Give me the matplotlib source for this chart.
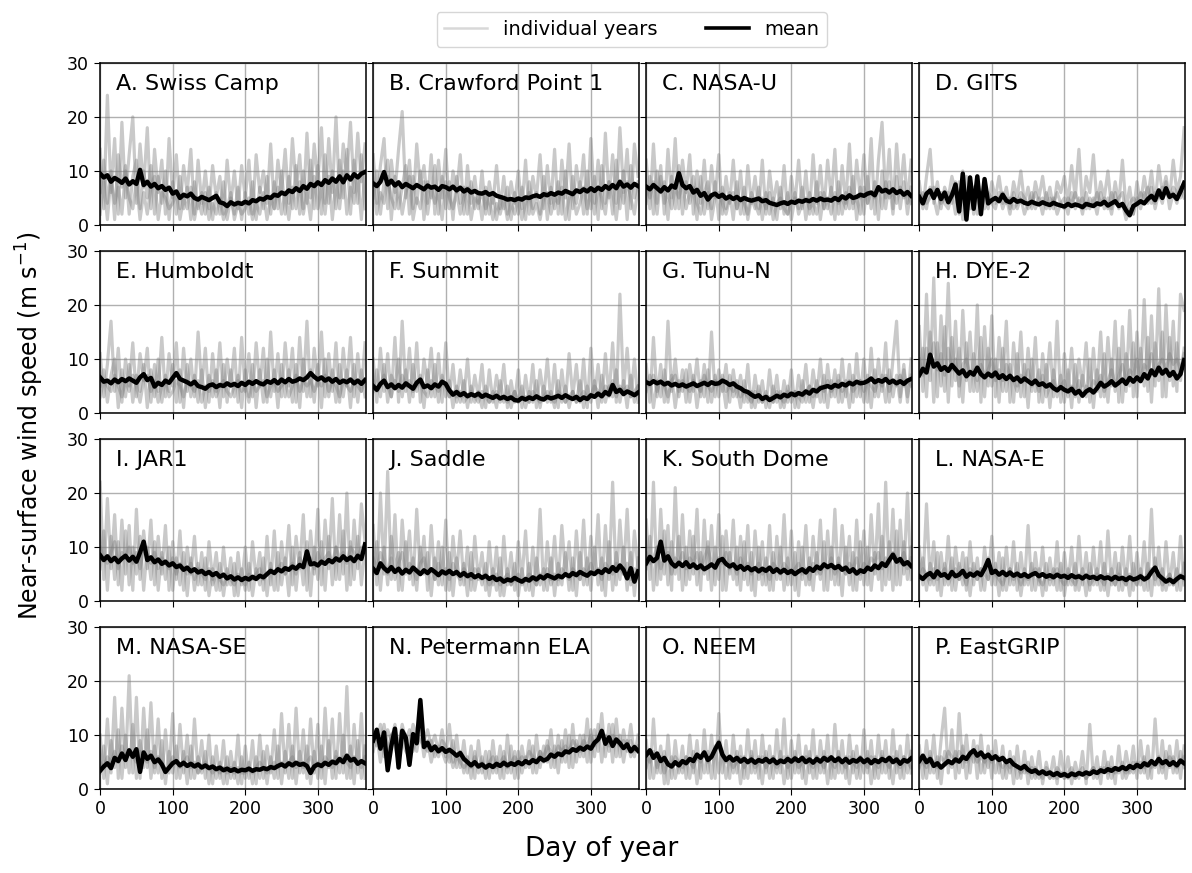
import numpy as np
import matplotlib.pyplot as plt
from matplotlib.lines import Line2D

# station panels, in reading order
labels = ["A. Swiss Camp", "B. Crawford Point 1", "C. NASA-U", "D. GITS",
          "E. Humboldt", "F. Summit", "G. Tunu-N", "H. DYE-2",
          "I. JAR1", "J. Saddle", "K. South Dome", "L. NASA-E",
          "M. NASA-SE", "N. Petermann ELA", "O. NEEM", "P. EastGRIP"]

# sampled every 5 days, day 0 ... 365
days = list(range(0, 366, 5))

# multi-year mean wind speed (m/s)
mean_A = [9.5, 8.8, 9.2, 8.0, 8.7, 8.3, 7.8, 8.6, 7.5, 8.1,
          7.6, 10.2, 7.4, 8.0, 7.1, 7.6, 6.8, 7.2, 6.5, 6.9,
          5.8, 6.2, 5.0, 5.6, 5.3, 5.8, 5.0, 4.7, 5.2, 4.9,
          4.6, 5.0, 5.4, 4.2, 4.0, 3.5, 4.2, 3.8, 4.1, 3.9,
          4.3, 4.0, 4.6, 4.4, 4.9, 4.7, 5.2, 5.0, 5.6, 5.4,
          6.0, 5.7, 6.4, 6.1, 6.8, 6.3, 7.2, 6.7, 7.6, 7.2,
          7.9, 7.4, 8.3, 7.8, 8.6, 8.0, 9.0, 7.9, 9.2, 8.4,
          9.4, 8.8, 9.5, 9.8]
mean_B = [7.7, 7.2, 8.0, 9.8, 7.5, 8.2, 7.3, 7.9, 7.0, 7.6,
          7.2, 6.8, 7.4, 7.0, 6.6, 7.3, 6.9, 7.1, 6.5, 7.2,
          7.0, 6.6, 7.1, 6.4, 6.9, 6.2, 6.6, 6.0, 6.3, 5.9,
          5.8, 6.1, 5.6, 5.9, 5.4, 5.2, 5.0, 4.7, 4.8, 4.6,
          4.9, 4.7, 5.1, 5.0, 5.3, 5.5, 5.2, 5.7, 5.5, 5.9,
          5.6, 6.0, 5.8, 6.3, 6.0, 5.7, 6.4, 6.1, 6.6, 6.2,
          6.8, 6.3, 6.9, 6.5, 7.2, 6.7, 7.4, 6.8, 8.0, 7.1,
          7.5, 6.9, 7.6, 7.2]
mean_C = [7.1, 6.6, 7.4, 6.8, 6.2, 7.0, 6.4, 7.3, 6.9, 9.6,
          7.4, 6.8, 7.2, 6.0, 6.5, 5.4, 5.9, 4.7, 5.5, 5.8,
          5.2, 5.6, 4.9, 5.3, 4.8, 5.2, 4.6, 5.0, 4.7, 4.5,
          4.7, 4.9, 4.4, 4.6, 4.1, 3.9, 3.7, 4.0, 4.2, 3.9,
          4.3, 4.1, 4.5, 4.3, 4.6, 4.4, 4.8, 4.5, 4.9, 4.6,
          4.7, 4.5, 5.0, 4.6, 5.3, 4.9, 5.5, 5.0, 5.2, 5.6,
          5.4, 5.8, 6.0, 5.5, 7.0, 6.2, 6.5, 6.0, 6.6, 5.9,
          6.3, 5.6, 6.1, 5.4]
mean_D = [5.2, 4.0, 5.8, 6.4, 5.0, 6.5, 4.8, 6.0, 4.2, 5.5,
          7.5, 2.5, 9.5, 1.0, 8.8, 3.0, 9.0, 2.0, 8.5, 4.0,
          4.6, 5.0, 4.4, 5.6, 4.5, 4.2, 4.8, 4.3, 4.5, 4.1,
          3.9, 4.3, 4.0, 3.8, 4.2, 3.9, 3.7, 4.1, 3.8, 3.6,
          3.4, 3.9, 3.5, 3.8, 3.6, 3.3, 3.9, 3.7, 3.5, 4.0,
          3.8, 4.3, 3.6, 4.0, 4.4, 3.5, 3.9, 2.7, 1.8, 3.5,
          3.9, 4.4, 4.0, 4.8, 5.4, 4.6, 6.4, 5.0, 6.8, 5.2,
          5.6, 4.8, 6.2, 7.8]
mean_E = [6.6, 5.8, 6.0, 5.5, 6.2, 5.7, 6.3, 5.9, 6.4, 6.0,
          5.6, 6.6, 7.2, 6.1, 6.5, 4.9, 5.6, 5.2, 6.0, 5.6,
          6.5, 7.4, 6.3, 6.0, 5.7, 5.3, 5.8, 5.0, 4.8, 4.5,
          5.1, 5.3, 4.8, 5.2, 5.0, 5.5, 5.1, 5.4, 5.0, 5.6,
          5.2, 5.8, 5.4, 5.9, 5.5, 5.3, 5.9, 5.6, 6.1, 5.5,
          6.2, 5.7, 6.3, 5.8, 6.0, 6.4, 6.1, 6.6, 7.4, 6.7,
          6.2, 6.6, 6.0, 6.4, 5.8, 6.3, 5.6, 6.0, 5.7, 6.2,
          5.5, 6.0, 5.4, 6.1]
mean_F = [5.0, 4.3, 5.4, 6.0, 4.8, 5.3, 4.6, 5.2, 4.7, 5.5,
          5.0, 4.5, 5.6, 6.2, 4.8, 5.1, 4.6, 5.3, 4.9, 5.8,
          5.4, 4.2, 3.4, 3.9, 3.3, 3.7, 3.1, 3.5, 3.2, 3.6,
          3.0, 3.4, 3.1, 2.8, 3.2, 2.7, 3.0, 2.6, 2.9, 2.4,
          2.3, 2.8, 2.5, 2.9, 2.6, 3.1, 2.7, 2.5, 3.0, 2.7,
          2.9, 3.2, 2.8, 3.3, 2.9, 2.6, 3.0, 2.4, 2.9, 2.6,
          3.3, 3.0, 3.6, 3.1, 3.9, 3.4, 5.2, 3.9, 4.3, 3.5,
          4.0, 3.7, 3.3, 3.8]
mean_G = [5.7, 5.4, 5.9, 5.5, 5.8, 5.3, 5.6, 5.1, 5.4, 5.0,
          5.3, 4.9, 5.2, 5.5, 5.0, 5.3, 5.6, 5.2, 5.7, 5.4,
          5.5, 6.0, 5.7, 5.2, 5.5, 4.9, 4.6, 4.1, 3.9, 3.4,
          3.0, 3.3, 2.6, 3.0, 2.4, 2.8, 3.2, 2.9, 3.4, 3.1,
          3.6, 3.3, 3.7, 3.4, 4.0, 3.6, 4.3, 4.0, 4.6, 4.8,
          5.0, 4.7, 5.2, 4.9, 5.4, 5.1, 5.6, 5.3, 5.8, 5.5,
          5.6, 5.9, 6.4, 5.7, 6.1, 5.8, 6.3, 5.6, 6.0, 5.5,
          5.9, 5.4, 6.0, 6.3]
mean_H = [7.0, 8.2, 7.5, 10.8, 8.6, 9.2, 8.0, 8.5, 7.8, 8.9,
          8.1, 7.3, 7.9, 6.8, 7.6, 7.1, 8.4, 7.2, 6.6, 7.3,
          6.8, 7.5, 6.5, 7.0, 6.3, 6.9, 6.1, 6.6, 5.8, 6.4,
          5.9, 5.4, 6.0, 5.2, 5.5, 4.9, 5.3, 4.6, 4.2, 4.8,
          4.3, 4.0, 4.5, 3.6, 4.1, 3.2, 4.0, 4.4, 3.8, 4.6,
          5.6, 4.9, 5.3, 5.9, 5.1, 5.6, 6.2, 5.4, 6.5, 5.8,
          6.6, 5.9, 7.2, 6.4, 7.9, 7.0, 8.4, 7.3, 8.0, 6.9,
          7.6, 6.4, 7.2, 9.8]
mean_I = [8.5, 7.6, 8.3, 7.4, 8.0, 7.2, 7.9, 8.4, 7.5, 8.2,
          7.3, 9.0, 11.0, 7.6, 8.1, 7.2, 7.7, 6.9, 7.3, 6.6,
          7.0, 6.3, 6.6, 5.8, 6.2, 5.5, 5.9, 5.3, 5.6, 5.0,
          5.4, 4.8, 5.2, 4.5, 4.9, 4.2, 4.6, 4.0, 4.4, 3.9,
          4.3, 4.0, 4.5, 4.1, 4.7, 4.4, 5.0, 5.6, 5.2, 5.9,
          5.5, 6.1, 5.8, 6.4, 6.0, 6.7, 6.3, 9.2, 6.8, 7.0,
          6.6, 7.3, 6.9, 7.6, 7.2, 7.9, 7.5, 8.3, 7.6, 8.1,
          7.4, 8.4, 7.8, 10.5]
mean_J = [6.0, 5.2, 7.0, 6.1, 5.5, 6.3, 5.4, 6.0, 5.1, 5.8,
          5.3, 6.2, 5.6, 5.0, 5.7, 5.2, 5.9, 5.4, 4.8, 5.5,
          5.1, 5.6, 5.0, 5.4, 4.7, 5.2, 4.6, 5.0, 4.4, 4.8,
          4.3, 4.7, 4.1, 4.5, 3.9, 4.2, 3.6, 4.0, 3.8, 4.3,
          3.9, 3.6, 4.1, 3.8, 4.4, 4.0, 4.6, 4.2, 4.8, 4.5,
          4.2, 4.7, 4.4, 5.0, 4.6, 5.2, 4.8, 5.4, 5.0, 4.7,
          5.3, 5.0, 5.6, 5.2, 5.9, 5.4, 6.3, 5.6, 6.6, 5.8,
          4.2, 6.1, 3.6, 5.5]
mean_K = [7.0, 8.2, 7.4, 8.0, 11.0, 7.5, 8.3, 7.0, 6.4, 7.1,
          6.5, 7.2, 6.3, 6.8, 6.1, 6.6, 5.9, 6.3, 6.8, 6.2,
          7.5, 7.8, 6.9, 6.4, 6.8, 6.0, 6.5, 5.8, 6.3, 5.7,
          6.1, 5.5, 6.0, 5.6, 6.2, 5.4, 5.9, 5.3, 5.8, 5.2,
          5.6, 5.0, 5.5, 5.9, 5.3, 6.1, 5.6, 6.4, 6.0, 6.8,
          6.3, 6.7, 6.1, 6.5, 5.8, 6.2, 5.4, 5.9, 5.1, 5.7,
          5.4, 6.2, 5.8, 6.6, 6.1, 7.0, 6.5, 7.6, 8.6, 7.3,
          7.8, 6.8, 7.2, 6.5]
mean_L = [4.6, 4.1, 4.8, 5.2, 4.4, 5.5, 4.7, 5.0, 4.3, 5.4,
          4.6, 4.9, 5.6, 4.5, 5.1, 4.7, 5.3, 4.8, 6.0, 7.6,
          5.2, 5.6, 4.9, 5.4, 4.8, 5.3, 4.7, 5.1, 4.6, 5.0,
          4.5, 4.9, 5.2, 4.6, 5.0, 4.5, 4.8, 4.4, 4.9, 4.5,
          4.7, 4.3, 4.8, 4.4, 4.6, 4.2, 4.7, 4.3, 4.5, 4.1,
          4.6, 4.2, 4.4, 4.0, 4.5, 4.1, 4.3, 3.9, 4.4, 4.0,
          4.2, 4.6, 4.0, 4.4, 5.4, 6.2, 4.8, 4.2, 3.6, 4.0,
          3.5, 4.1, 4.6, 4.3]
mean_M = [3.4, 4.2, 4.8, 3.9, 5.8, 5.2, 6.6, 5.4, 7.2, 6.0,
          7.4, 3.2, 6.8, 5.6, 6.2, 5.0, 5.5, 4.6, 3.2, 4.0,
          4.8, 5.2, 4.4, 4.9, 4.3, 4.7, 4.2, 4.6, 4.0, 4.4,
          3.9, 4.2, 3.7, 4.0, 3.5, 3.8, 3.4, 3.7, 3.3, 3.6,
          3.5, 3.8, 3.4, 3.7, 3.6, 3.9, 3.7, 4.1, 3.9, 4.3,
          4.6, 4.2, 4.8, 4.4, 4.9, 4.5, 4.7, 4.3, 3.0, 4.2,
          4.6, 4.3, 4.9, 4.5, 5.1, 4.8, 5.6, 5.0, 6.2, 5.3,
          5.6, 4.7, 5.2, 4.8]
mean_N = [9.0, 11.0, 7.5, 10.5, 3.5, 8.0, 11.2, 4.0, 10.8, 9.5,
          4.5, 10.2, 8.5, 16.5, 7.8, 8.6, 7.2, 7.9, 7.0, 7.6,
          6.9, 7.3, 6.8, 6.2, 6.7, 5.6, 5.0, 4.4, 5.0, 4.2,
          4.6, 4.0, 4.5, 4.1, 4.7, 4.3, 4.9, 4.4, 4.8, 4.5,
          5.0, 4.6, 5.2, 4.8, 5.4, 5.0, 5.8, 5.3, 5.6, 6.4,
          6.0, 6.6, 6.3, 7.0, 6.8, 7.4, 7.1, 7.7, 7.3, 7.9,
          7.5, 8.6, 9.2, 10.8, 8.4, 9.6, 8.0, 9.2, 8.5, 7.6,
          8.3, 7.0, 7.8, 7.1]
mean_O = [6.3, 7.2, 5.8, 6.6, 5.2, 5.8, 4.6, 4.2, 5.0, 4.4,
          5.2, 4.8, 5.6, 5.2, 6.4, 5.8, 6.8, 5.4, 6.0, 7.4,
          8.6, 6.4, 5.4, 6.0, 5.3, 5.8, 5.1, 5.6, 5.0, 5.5,
          4.9, 5.4, 5.1, 5.6, 5.0, 5.5, 4.8, 5.3, 5.0, 5.6,
          5.1, 5.7, 5.2, 5.8, 5.0, 5.5, 4.9, 5.6, 5.1, 5.8,
          5.3, 5.9, 5.2, 5.7, 5.0, 5.6, 4.9, 5.4, 5.1, 5.7,
          5.0, 5.5, 4.8, 5.4, 5.0, 5.6, 5.2, 5.8, 5.0, 5.5,
          4.7, 5.4, 5.1, 5.7]
mean_P = [5.2, 6.2, 5.0, 5.6, 4.3, 4.8, 4.0, 4.6, 5.2, 4.8,
          5.5, 5.1, 6.0, 5.6, 6.6, 7.2, 6.2, 6.8, 5.9, 6.4,
          5.6, 6.1, 5.4, 5.8, 5.0, 5.4, 4.6, 4.2, 3.8, 4.3,
          3.6, 3.2, 3.5, 2.9, 3.3, 2.8, 3.1, 2.6, 3.0, 2.5,
          2.8, 2.4, 2.9, 2.6, 3.0, 2.7, 3.1, 2.8, 3.3, 3.0,
          3.5, 3.2, 3.7, 3.4, 3.9, 3.6, 4.1, 3.7, 4.3, 3.9,
          4.5, 4.1, 4.8, 4.4, 5.2, 4.6, 5.6, 4.8, 5.2, 4.5,
          5.0, 4.4, 5.3, 4.8]

# a few individual years per station (m/s)
years_A = [
    [14, 3, 24, 6, 16, 2, 19, 5, 13, 20, 4, 15, 7, 18, 3, 14, 6, 12, 2, 16,
     5, 13, 3, 11, 6, 14, 2, 12, 4, 10, 3, 11, 5, 9, 2, 12, 4, 10, 3, 11,
     5, 12, 2, 13, 6, 10, 4, 15, 3, 12, 6, 14, 4, 16, 7, 13, 3, 17, 5, 15,
     8, 18, 4, 16, 6, 20, 5, 15, 9, 19, 6, 17, 8, 15],
    [6, 12, 4, 10, 1, 13, 7, 11, 2, 9, 12, 3, 10, 5, 11, 2, 9, 4, 10, 1,
     8, 2, 9, 3, 7, 1, 8, 3, 6, 2, 7, 1, 6, 2, 8, 1, 5, 2, 7, 1,
     6, 2, 8, 1, 7, 3, 9, 2, 8, 3, 10, 2, 9, 3, 11, 2, 10, 4, 12, 3,
     11, 2, 13, 4, 10, 3, 12, 5, 14, 2, 12, 4, 13, 3],
    [2, 8, 1, 9, 4, 7, 2, 10, 5, 3, 8, 1, 6, 2, 7, 9, 1, 6, 5, 3,
     4, 6, 1, 5, 3, 7, 1, 5, 2, 6, 1, 4, 2, 5, 1, 3, 6, 1, 4, 2,
     3, 5, 1, 4, 2, 6, 1, 5, 3, 7, 2, 6, 1, 7, 3, 8, 2, 6, 1, 9,
     3, 7, 2, 9, 1, 8, 3, 10, 2, 7, 4, 9, 1, 10]]
years_B = [
    [13, 4, 11, 16, 3, 12, 6, 14, 21, 5, 12, 3, 15, 7, 11, 4, 13, 2, 12, 5,
     14, 3, 10, 6, 13, 2, 11, 4, 9, 3, 10, 2, 8, 4, 11, 3, 9, 2, 8, 4,
     10, 3, 12, 2, 9, 5, 13, 3, 11, 4, 14, 2, 12, 5, 15, 3, 11, 6, 13, 2,
     16, 4, 12, 3, 17, 5, 13, 4, 18, 6, 14, 3, 15, 9],
    [5, 10, 2, 8, 12, 1, 9, 3, 7, 11, 2, 9, 4, 10, 1, 8, 5, 11, 2, 9,
     3, 8, 1, 9, 4, 7, 2, 8, 3, 6, 1, 7, 2, 6, 1, 5, 3, 7, 1, 6,
     2, 7, 1, 8, 3, 6, 2, 9, 1, 7, 3, 8, 2, 10, 1, 9, 4, 8, 2, 10,
     3, 9, 1, 11, 4, 8, 2, 12, 3, 10, 1, 11, 5, 8],
    [8, 2, 6, 4, 9, 5, 3, 7, 2, 6, 9, 1, 5, 3, 8, 2, 7, 4, 6, 1,
     8, 5, 3, 6, 2, 5, 7, 1, 5, 4, 6, 3, 5, 1, 4, 2, 5, 1, 4, 2,
     5, 1, 4, 6, 2, 4, 1, 5, 6, 2, 5, 4, 7, 1, 5, 6, 2, 4, 7, 3,
     6, 2, 7, 5, 2, 8, 6, 1, 7, 4, 8, 5, 2, 7]]
years_C = [
    [12, 3, 15, 4, 11, 2, 14, 5, 16, 3, 12, 6, 13, 2, 10, 4, 12, 3, 11, 5,
     13, 2, 9, 4, 12, 3, 10, 2, 11, 4, 9, 3, 12, 2, 10, 4, 8, 3, 11, 2,
     9, 4, 12, 3, 10, 2, 13, 4, 11, 3, 12, 5, 14, 2, 11, 4, 15, 3, 12, 5,
     13, 4, 16, 2, 12, 19, 5, 14, 3, 15, 6, 13, 4, 12],
    [4, 9, 2, 10, 6, 8, 1, 9, 3, 11, 2, 8, 4, 7, 1, 9, 2, 6, 3, 8,
     1, 7, 3, 6, 1, 8, 2, 7, 1, 5, 3, 7, 1, 6, 2, 5, 1, 7, 2, 6,
     1, 5, 3, 7, 1, 6, 2, 8, 1, 6, 3, 7, 1, 8, 2, 6, 3, 9, 1, 7,
     2, 9, 3, 8, 1, 10, 3, 8, 2, 9, 3, 8, 2, 7],
    [7, 5, 8, 2, 9, 4, 6, 3, 7, 5, 8, 3, 6, 9, 4, 2, 6, 8, 1, 5,
     6, 4, 2, 5, 6, 3, 5, 4, 2, 6, 4, 2, 5, 3, 6, 1, 4, 5, 3, 2,
     4, 6, 2, 4, 5, 3, 4, 2, 6, 3, 5, 2, 6, 4, 5, 3, 7, 4, 5, 2,
     7, 4, 6, 5, 7, 3, 8, 5, 6, 4, 7, 5, 6, 4]]
years_D = [
    [8, 3, 9, 14, 4, 8, 3, 7, 5, 9, 6, 2, 10, 3, 8, 2, 9, 4, 7, 3,
     8, 5, 9, 4, 7, 3, 8, 5, 10, 4, 7, 3, 8, 5, 9, 4, 7, 3, 8, 6,
     9, 4, 11, 5, 14, 3, 9, 6, 13, 4, 8, 5, 10, 3, 8, 4, 12, 3, 7, 2,
     8, 4, 9, 5, 10, 4, 11, 6, 9, 5, 12, 6, 9, 18],
    [4, 6, 3, 7, 5, 2, 6, 4, 3, 6, 2, 8, 1, 9, 3, 7, 2, 6, 3, 5,
     4, 3, 6, 3, 5, 2, 6, 3, 5, 2, 4, 6, 3, 5, 2, 6, 3, 5, 2, 4,
     5, 2, 6, 3, 5, 2, 6, 3, 5, 2, 6, 3, 5, 2, 6, 3, 4, 1, 3, 2,
     5, 3, 6, 4, 7, 3, 6, 4, 8, 3, 6, 4, 7, 5],
    [6, 5, 4, 5, 7, 6, 4, 5, 6, 4, 8, 4, 7, 2, 6, 4, 5, 3, 5, 6,
     5, 4, 5, 6, 4, 5, 3, 4, 6, 5, 3, 4, 6, 4, 5, 3, 5, 4, 6, 4,
     3, 5, 4, 6, 4, 5, 3, 5, 4, 6, 4, 5, 3, 6, 4, 5, 6, 2, 4, 5,
     4, 6, 5, 7, 4, 6, 5, 7, 6, 5, 7, 6, 5, 7]]
years_E = [
    [11, 3, 9, 17, 4, 12, 2, 10, 5, 13, 3, 11, 6, 12, 2, 9, 4, 14, 3, 11,
     5, 13, 2, 12, 4, 10, 3, 15, 5, 12, 2, 11, 4, 13, 3, 10, 5, 12, 2, 14,
     4, 11, 3, 13, 5, 12, 2, 15, 4, 11, 3, 13, 5, 12, 2, 14, 4, 17, 3, 12,
     5, 15, 3, 11, 4, 13, 2, 12, 5, 14, 3, 11, 4, 13],
    [5, 8, 2, 7, 10, 1, 8, 3, 9, 2, 7, 4, 9, 1, 8, 3, 10, 2, 7, 4,
     9, 2, 8, 1, 9, 3, 7, 2, 8, 1, 7, 3, 8, 1, 9, 2, 8, 3, 7, 1,
     8, 3, 9, 1, 8, 2, 10, 3, 8, 1, 9, 3, 8, 2, 9, 1, 10, 3, 8, 2,
     9, 1, 10, 3, 8, 2, 9, 3, 8, 1, 9, 2, 8, 3],
    [3, 6, 5, 4, 7, 5, 3, 6, 4, 7, 5, 2, 6, 7, 4, 6, 2, 5, 6, 3,
     4, 6, 5, 3, 6, 5, 4, 6, 2, 5, 4, 6, 3, 5, 6, 4, 3, 5, 6, 4,
     5, 2, 6, 4, 5, 6, 3, 5, 6, 4, 5, 6, 3, 5, 7, 4, 6, 5, 6, 4,
     6, 5, 7, 4, 6, 5, 3, 6, 5, 4, 6, 5, 4, 6]]
years_F = [
    [10, 2, 12, 4, 11, 3, 14, 2, 17, 4, 12, 3, 13, 2, 10, 5, 12, 3, 11, 2,
     13, 3, 9, 2, 8, 3, 10, 2, 7, 3, 9, 1, 8, 2, 7, 3, 9, 1, 6, 2,
     8, 1, 7, 2, 9, 1, 8, 3, 10, 2, 9, 1, 8, 2, 11, 3, 9, 2, 10, 1,
     12, 3, 9, 2, 11, 3, 13, 2, 22, 4, 12, 3, 10, 2],
    [4, 8, 3, 9, 2, 7, 5, 10, 3, 8, 2, 9, 4, 7, 1, 8, 3, 9, 2, 7,
     3, 6, 1, 5, 2, 6, 1, 5, 2, 4, 1, 5, 2, 4, 1, 6, 2, 5, 1, 4,
     2, 5, 1, 4, 2, 6, 1, 5, 2, 4, 1, 6, 2, 5, 1, 4, 2, 6, 1, 5,
     2, 6, 1, 7, 2, 5, 3, 8, 2, 6, 1, 7, 2, 5],
    [6, 4, 5, 7, 5, 3, 6, 4, 7, 5, 6, 4, 5, 6, 4, 3, 6, 5, 4, 6,
     5, 3, 4, 3, 4, 2, 3, 4, 3, 2, 4, 3, 2, 3, 4, 2, 3, 2, 3, 4,
     2, 3, 3, 2, 4, 3, 2, 3, 4, 3, 2, 4, 3, 2, 3, 4, 2, 3, 4, 3,
     3, 5, 4, 3, 5, 4, 6, 3, 5, 4, 5, 3, 4, 5]]
years_G = [
    [9, 2, 14, 3, 9, 2, 17, 4, 10, 3, 8, 2, 9, 4, 10, 3, 9, 2, 15, 3,
     8, 4, 9, 2, 8, 3, 7, 2, 9, 1, 7, 2, 6, 1, 8, 2, 7, 1, 6, 2,
     8, 1, 7, 3, 9, 2, 8, 3, 10, 2, 9, 3, 8, 2, 10, 3, 9, 2, 11, 3,
     10, 2, 12, 3, 10, 4, 13, 2, 10, 17, 3, 9, 2, 10],
    [4, 7, 1, 6, 3, 8, 2, 7, 1, 6, 4, 8, 2, 7, 1, 6, 3, 8, 2, 7,
     3, 6, 1, 7, 3, 5, 1, 6, 2, 4, 1, 5, 2, 4, 1, 5, 2, 4, 1, 5,
     2, 4, 1, 6, 2, 5, 1, 6, 2, 7, 1, 6, 3, 7, 2, 6, 1, 7, 3, 6,
     2, 7, 1, 8, 3, 7, 2, 8, 3, 7, 2, 8, 3, 7],
    [6, 5, 7, 4, 6, 5, 3, 6, 7, 4, 6, 5, 4, 6, 5, 4, 7, 5, 4, 6,
     5, 7, 4, 5, 4, 6, 3, 4, 3, 2, 4, 3, 2, 3, 3, 2, 4, 3, 2, 4,
     3, 4, 3, 2, 4, 5, 3, 4, 5, 4, 6, 4, 5, 6, 4, 5, 6, 4, 5, 6,
     4, 6, 5, 4, 6, 5, 7, 4, 6, 5, 7, 5, 6, 5]]
years_H = [
    [16, 4, 22, 6, 25, 3, 18, 7, 24, 5, 17, 3, 19, 6, 15, 4, 20, 2, 16, 5,
     18, 3, 14, 6, 17, 2, 13, 5, 15, 3, 12, 4, 14, 2, 11, 5, 13, 3, 17, 2,
     11, 4, 12, 3, 10, 5, 13, 2, 12, 4, 15, 3, 14, 5, 17, 2, 16, 4, 19, 3,
     15, 6, 21, 4, 18, 5, 23, 3, 20, 6, 17, 4, 22, 19],
    [7, 12, 3, 15, 2, 13, 5, 16, 2, 14, 6, 12, 2, 13, 4, 11, 6, 14, 3, 12,
     5, 10, 2, 12, 4, 9, 2, 11, 3, 9, 1, 10, 4, 8, 2, 9, 1, 8, 3, 7,
     2, 8, 1, 9, 2, 7, 3, 10, 1, 8, 3, 11, 2, 10, 4, 12, 2, 11, 5, 13,
     3, 12, 5, 14, 2, 13, 6, 15, 3, 14, 5, 13, 6, 12],
    [10, 7, 12, 9, 13, 8, 11, 4, 12, 8, 10, 5, 9, 10, 7, 8, 4, 9, 7, 8,
     10, 6, 8, 4, 9, 7, 6, 4, 7, 6, 8, 5, 6, 4, 7, 3, 5, 6, 4, 5,
     6, 3, 5, 4, 6, 3, 5, 4, 6, 5, 7, 4, 6, 8, 5, 7, 9, 6, 8, 7,
     10, 6, 9, 8, 11, 7, 9, 10, 8, 11, 9, 10, 8, 11]]
years_I = [
    [22, 4, 19, 6, 16, 3, 15, 5, 14, 2, 17, 4, 13, 6, 15, 3, 12, 5, 14, 2,
     11, 4, 13, 2, 10, 5, 12, 3, 9, 2, 11, 4, 9, 2, 10, 3, 8, 1, 9, 3,
     10, 2, 11, 4, 9, 2, 12, 3, 13, 2, 11, 5, 14, 3, 12, 6, 16, 2, 13, 5,
     17, 3, 15, 6, 19, 4, 16, 5, 20, 3, 15, 6, 18, 11],
    [6, 13, 2, 12, 4, 11, 2, 13, 3, 10, 5, 12, 2, 10, 4, 11, 2, 9, 4, 10,
     2, 8, 3, 9, 1, 8, 2, 7, 3, 8, 1, 6, 2, 7, 1, 6, 3, 7, 1, 6,
     2, 7, 1, 6, 3, 8, 1, 7, 2, 9, 3, 8, 1, 10, 2, 9, 3, 11, 1, 10,
     4, 11, 2, 12, 3, 10, 4, 13, 2, 11, 4, 12, 3, 10],
    [10, 8, 7, 9, 11, 6, 9, 8, 10, 7, 9, 6, 10, 8, 7, 9, 6, 8, 7, 6,
     8, 5, 7, 6, 5, 7, 4, 6, 5, 4, 6, 3, 5, 4, 3, 5, 4, 3, 5, 4,
     3, 5, 4, 5, 6, 4, 5, 6, 5, 6, 7, 5, 6, 7, 5, 8, 6, 7, 8, 6,
     9, 7, 8, 9, 7, 10, 8, 9, 7, 10, 9, 8, 10, 9]]
years_J = [
    [14, 3, 20, 5, 24, 4, 16, 2, 15, 6, 13, 3, 17, 5, 12, 2, 14, 4, 11, 3,
     15, 2, 12, 5, 13, 3, 10, 2, 12, 4, 9, 2, 11, 3, 10, 1, 12, 3, 9, 2,
     11, 4, 13, 2, 10, 3, 17, 2, 11, 4, 12, 3, 14, 5, 11, 2, 13, 4, 15, 3,
     12, 5, 16, 2, 14, 4, 22, 3, 15, 5, 17, 3, 13, 6],
    [5, 11, 2, 10, 3, 12, 6, 9, 2, 11, 4, 8, 2, 10, 5, 9, 1, 8, 3, 10,
     2, 9, 1, 8, 3, 7, 1, 9, 2, 6, 3, 7, 1, 6, 2, 8, 1, 6, 3, 7,
     1, 6, 2, 7, 1, 8, 3, 6, 2, 8, 1, 7, 3, 9, 2, 8, 1, 9, 3, 8,
     2, 10, 3, 8, 1, 11, 2, 9, 4, 10, 2, 9, 1, 8],
    [8, 6, 9, 7, 5, 8, 4, 7, 9, 5, 7, 6, 4, 7, 8, 5, 6, 4, 7, 5,
     6, 4, 7, 5, 4, 6, 5, 4, 6, 5, 4, 5, 3, 4, 5, 3, 4, 5, 3, 4,
     5, 3, 4, 5, 4, 3, 5, 4, 6, 3, 5, 4, 6, 5, 4, 6, 5, 4, 6, 5,
     7, 5, 6, 4, 7, 6, 5, 7, 6, 5, 7, 4, 6, 5]]
years_K = [
    [15, 4, 22, 3, 17, 5, 14, 2, 21, 4, 16, 3, 13, 5, 17, 2, 15, 4, 14, 3,
     16, 2, 13, 5, 15, 3, 12, 4, 14, 2, 13, 4, 11, 3, 14, 2, 12, 4, 16, 3,
     13, 2, 11, 4, 14, 3, 12, 5, 15, 2, 13, 4, 17, 3, 14, 5, 12, 2, 15, 4,
     13, 3, 16, 5, 18, 2, 22, 4, 17, 3, 15, 5, 20, 4],
    [6, 12, 2, 10, 4, 13, 3, 11, 5, 12, 2, 10, 4, 12, 3, 9, 5, 11, 2, 10,
     4, 12, 2, 9, 4, 10, 2, 11, 3, 9, 1, 10, 3, 8, 2, 9, 4, 10, 2, 8,
     3, 9, 1, 10, 3, 8, 2, 9, 4, 11, 2, 10, 3, 8, 1, 10, 3, 9, 2, 11,
     3, 10, 2, 9, 4, 12, 3, 11, 2, 13, 3, 11, 4, 10],
    [9, 7, 8, 10, 6, 8, 9, 5, 8, 7, 9, 6, 8, 7, 9, 6, 8, 10, 7, 6,
     8, 7, 9, 6, 7, 5, 8, 6, 7, 5, 6, 7, 5, 6, 4, 7, 6, 5, 7, 6,
     5, 6, 7, 5, 6, 4, 7, 6, 5, 7, 6, 8, 5, 7, 6, 5, 7, 6, 8, 5,
     7, 6, 8, 7, 9, 6, 8, 7, 9, 8, 7, 9, 6, 8]]
years_L = [
    [10, 3, 18, 4, 11, 2, 9, 3, 12, 2, 10, 4, 9, 2, 11, 3, 8, 2, 10, 4,
     12, 3, 9, 2, 10, 3, 11, 2, 9, 3, 14, 2, 9, 3, 10, 2, 8, 3, 11, 2,
     9, 3, 10, 2, 12, 3, 9, 2, 10, 3, 11, 2, 13, 3, 9, 2, 10, 3, 12, 2,
     9, 3, 11, 2, 17, 3, 10, 2, 11, 3, 9, 2, 12, 3],
    [5, 8, 2, 7, 3, 9, 1, 7, 4, 8, 2, 7, 3, 8, 1, 7, 4, 6, 2, 8,
     3, 7, 1, 8, 2, 6, 3, 7, 1, 6, 3, 7, 2, 6, 1, 7, 3, 6, 2, 7,
     1, 6, 3, 7, 2, 6, 1, 7, 3, 6, 2, 7, 1, 6, 3, 7, 2, 6, 1, 7,
     3, 6, 2, 7, 1, 8, 3, 6, 2, 5, 3, 6, 2, 7],
    [4, 6, 5, 3, 6, 4, 5, 6, 3, 5, 6, 4, 5, 3, 6, 5, 4, 6, 5, 4,
     6, 5, 4, 3, 5, 6, 4, 5, 3, 5, 4, 5, 6, 4, 3, 5, 4, 5, 6, 4,
     3, 5, 4, 3, 5, 4, 5, 3, 4, 5, 4, 3, 5, 4, 3, 5, 4, 3, 5, 4,
     3, 5, 4, 5, 6, 4, 5, 3, 4, 5, 3, 4, 5, 4]]
years_M = [
    [10, 2, 13, 3, 17, 2, 15, 4, 21, 3, 17, 2, 15, 4, 16, 3, 13, 2, 11, 3,
     14, 2, 12, 3, 10, 2, 13, 3, 9, 2, 10, 1, 8, 2, 9, 1, 7, 2, 10, 1,
     8, 2, 9, 1, 10, 2, 8, 3, 11, 2, 14, 3, 12, 2, 15, 3, 11, 2, 13, 3,
     12, 2, 15, 4, 13, 2, 14, 3, 19, 2, 12, 3, 14, 2],
    [3, 8, 1, 9, 4, 11, 2, 10, 3, 12, 2, 9, 4, 11, 2, 8, 3, 9, 1, 7,
     3, 8, 2, 7, 1, 8, 2, 6, 3, 7, 1, 6, 2, 5, 1, 6, 2, 5, 1, 6,
     2, 5, 1, 6, 2, 7, 1, 6, 2, 8, 1, 7, 2, 8, 1, 7, 3, 8, 1, 7,
     2, 8, 1, 9, 2, 7, 3, 10, 2, 8, 1, 9, 2, 8],
    [5, 4, 6, 5, 7, 5, 8, 6, 7, 6, 5, 7, 6, 5, 7, 4, 6, 5, 3, 4,
     6, 5, 4, 5, 6, 4, 5, 3, 4, 5, 4, 3, 4, 3, 4, 3, 4, 3, 4, 3,
     3, 4, 3, 4, 5, 4, 3, 4, 5, 4, 5, 4, 5, 6, 4, 5, 4, 5, 6, 4,
     5, 4, 6, 5, 4, 6, 5, 6, 5, 4, 6, 5, 4, 6]]
years_N = [
    [10, 8, 12, 6, 11, 9, 12, 7, 11, 10, 8, 12, 10, 13, 9, 11, 8, 10, 7, 11,
     6, 12, 5, 10, 4, 9, 3, 8, 2, 9, 3, 7, 2, 9, 3, 8, 2, 10, 3, 7,
     2, 8, 4, 9, 3, 10, 4, 8, 5, 11, 4, 10, 5, 11, 4, 12, 5, 10, 6, 13,
     5, 11, 7, 14, 6, 12, 5, 13, 6, 11, 7, 12, 6, 10],
    [7, 10, 5, 9, 6, 10, 8, 5, 9, 7, 6, 9, 7, 11, 6, 9, 5, 8, 6, 9,
     8, 5, 9, 4, 7, 3, 6, 2, 7, 3, 6, 2, 7, 3, 6, 2, 7, 3, 8, 2,
     7, 3, 6, 4, 8, 3, 7, 5, 9, 4, 8, 3, 9, 5, 10, 4, 9, 6, 10, 5,
     11, 6, 12, 5, 10, 7, 12, 6, 10, 5, 9, 6, 8, 7],
    [9, 11, 8, 12, 7, 10, 11, 8, 12, 9, 11, 7, 10, 9, 8, 7, 9, 6, 8, 7,
     5, 7, 4, 6, 5, 4, 5, 4, 6, 4, 5, 4, 5, 6, 4, 5, 6, 4, 5, 6,
     5, 6, 5, 7, 6, 5, 7, 6, 8, 7, 6, 8, 7, 8, 7, 9, 8, 7, 9, 8,
     10, 8, 9, 10, 9, 8, 10, 9, 8, 9, 8, 9, 7, 8]]
years_O = [
    [9, 2, 13, 3, 8, 1, 10, 2, 9, 3, 8, 2, 10, 3, 9, 2, 11, 3, 10, 2,
     14, 3, 9, 2, 10, 3, 8, 2, 11, 3, 9, 2, 10, 3, 8, 2, 11, 3, 13, 2,
     9, 3, 10, 2, 8, 3, 11, 2, 9, 3, 10, 2, 12, 3, 9, 2, 10, 3, 8, 2,
     11, 3, 9, 2, 10, 3, 9, 2, 11, 3, 8, 2, 10, 3],
    [4, 7, 2, 6, 3, 7, 1, 6, 2, 5, 3, 6, 2, 7, 1, 6, 3, 7, 2, 8,
     3, 7, 2, 6, 3, 7, 1, 6, 2, 7, 3, 6, 1, 7, 2, 6, 3, 7, 1, 6,
     2, 7, 3, 6, 1, 7, 2, 6, 3, 7, 1, 6, 2, 7, 3, 6, 1, 7, 2, 6,
     3, 7, 1, 6, 2, 7, 3, 6, 1, 7, 2, 6, 3, 7],
    [6, 5, 7, 4, 6, 3, 5, 4, 6, 5, 4, 6, 5, 4, 6, 5, 7, 5, 6, 7,
     9, 6, 5, 6, 4, 5, 6, 4, 5, 6, 4, 5, 6, 4, 5, 6, 4, 5, 6, 4,
     5, 6, 4, 5, 6, 5, 4, 6, 5, 4, 6, 5, 4, 6, 5, 4, 6, 5, 4, 6,
     5, 4, 6, 5, 4, 6, 5, 4, 6, 5, 4, 6, 5, 4]]
years_P = [
    [8, 2, 9, 3, 10, 2, 9, 15, 3, 11, 2, 14, 4, 10, 3, 9, 2, 10, 3, 8,
     2, 9, 3, 8, 2, 7, 1, 8, 2, 7, 1, 6, 2, 7, 1, 5, 2, 6, 1, 7,
     2, 6, 1, 5, 2, 7, 1, 12, 2, 6, 1, 7, 2, 6, 1, 8, 2, 7, 3, 8,
     2, 9, 3, 8, 2, 13, 3, 9, 2, 8, 3, 9, 2, 8],
    [4, 6, 2, 7, 3, 6, 1, 7, 5, 4, 7, 3, 8, 2, 7, 5, 8, 3, 6, 4,
     7, 3, 6, 2, 5, 3, 6, 2, 4, 3, 5, 2, 4, 3, 2, 4, 3, 2, 4, 3,
     2, 3, 4, 2, 3, 4, 2, 3, 4, 2, 4, 3, 5, 2, 4, 3, 5, 2, 4, 3,
     5, 3, 6, 2, 5, 4, 6, 3, 7, 4, 6, 3, 7, 4],
    [6, 5, 4, 6, 5, 4, 6, 5, 7, 6, 5, 7, 6, 5, 6, 7, 5, 6, 5, 6,
     5, 6, 5, 4, 5, 4, 5, 4, 3, 4, 3, 4, 3, 2, 3, 3, 2, 3, 2, 3,
     3, 2, 3, 2, 3, 3, 2, 3, 4, 3, 3, 4, 3, 4, 3, 4, 4, 3, 4, 5,
     4, 5, 4, 5, 4, 5, 5, 4, 5, 6, 5, 4, 5, 6]]

means = [mean_A, mean_B, mean_C, mean_D, mean_E, mean_F, mean_G, mean_H,
         mean_I, mean_J, mean_K, mean_L, mean_M, mean_N, mean_O, mean_P]
years = [years_A, years_B, years_C, years_D, years_E, years_F, years_G, years_H,
         years_I, years_J, years_K, years_L, years_M, years_N, years_O, years_P]

fig, axes = plt.subplots(4, 4, sharex=True, sharey=True, figsize=(11.92, 8.73), dpi=100)
fig.subplots_adjust(left=0.084, right=0.994, top=0.928, bottom=0.096,
                    wspace=0.028, hspace=0.16)

for ax, lab, m, yrs in zip(axes.flat, labels, means, years):
    for y in yrs:
        ax.plot(np.linspace(0, 365, len(y)), y, color='gray', alpha=0.42, lw=2.3)
    ax.plot(np.linspace(0, 365, len(m)), m, color='black', lw=3.2)
    ax.text(0.06, 0.93, lab, transform=ax.transAxes, va='top', ha='left', fontsize=16)
    ax.grid(True, color='#b0b0b0', lw=1.0)
    ax.set_axisbelow(True)
    ax.tick_params(labelsize=12.5, length=4.5)
    for s in ax.spines.values():
        s.set_linewidth(1.1)

axes[0, 0].set_xlim(0, 366)
axes[0, 0].set_ylim(0, 30)
axes[0, 0].set_yticks([0, 10, 20, 30])
axes[0, 0].set_xticks([0, 100, 200, 300])

handles = [Line2D([], [], color='gray', alpha=0.3, lw=1.8),
           Line2D([], [], color='black', lw=2.6)]
fig.legend(handles, ['individual years', 'mean'], loc='upper center',
           bbox_to_anchor=(0.53, 0.997), ncol=2, fontsize=14, columnspacing=2.5,
           handlelength=2.2)

fig.text(0.025, 0.512, 'Near-surface wind speed (m s$^{-1}$)', rotation=90,
         va='center', ha='center', fontsize=17)
fig.text(0.505, 0.028, 'Day of year', va='center', ha='center', fontsize=19)

plt.savefig('out.png')
